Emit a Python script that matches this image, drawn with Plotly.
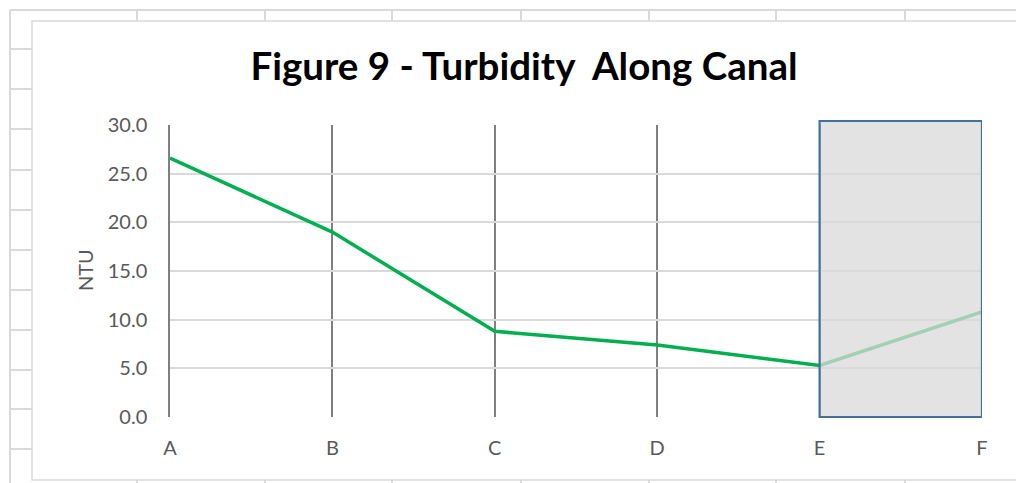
import plotly.graph_objects as go

# Data
sites = ["A", "B", "C", "D", "E", "F"]
turbidity_ntu = [26.6, 19.0, 8.8, 7.4, 5.3, 10.8]
y_ticks = [0, 5, 10, 15, 20, 25, 30]
shaded_from, shaded_to = "E", "F"

W, H = 1024, 483
OFF = 8  # page body margin
FONT = "Lato"
GRID = "#d9d9d9"


def px(x):
    return (x - OFF) / W


def py(y):
    return 1 - (y - OFF) / H


fig = go.Figure()
fig.add_trace(go.Scatter(
    x=sites, y=turbidity_ntu, mode="lines",
    line=dict(color="#00b050", width=3.5),
    hoverinfo="skip", showlegend=False,
))

shapes = []
# spreadsheet cell grid behind the chart
line = dict(color=GRID, width=2)
shapes.append(dict(type="line", xref="paper", yref="paper", x0=px(10), x1=px(1030), y0=py(10), y1=py(10), line=line))
shapes.append(dict(type="line", xref="paper", yref="paper", x0=px(10), x1=px(10), y0=py(10), y1=py(490), line=line))
for yy in [49, 89, 129, 170, 210, 250, 290, 330, 370, 409, 449]:
    shapes.append(dict(type="line", xref="paper", yref="paper", x0=px(10), x1=px(32), y0=py(yy), y1=py(yy), line=line))
    shapes.append(dict(type="line", xref="paper", yref="paper", x0=px(1017), x1=px(1030), y0=py(yy), y1=py(yy), line=line))
for xx in [137, 265, 392, 521, 649, 776, 905]:
    shapes.append(dict(type="line", xref="paper", yref="paper", x0=px(xx), x1=px(xx), y0=py(10), y1=py(21), line=line))
    shapes.append(dict(type="line", xref="paper", yref="paper", x0=px(xx), x1=px(xx), y0=py(480), y1=py(490), line=line))
# chart area border
shapes.append(dict(type="rect", xref="paper", yref="paper", x0=px(32), x1=px(1017), y0=py(21), y1=py(480),
                   line=dict(color=GRID, width=1.5), fillcolor="white", layer="below"))
# shaded box over the last segment (rises a little above the plot top)
shapes.append(dict(type="rect", xref="x", yref="paper",
                   x0=sites.index(shaded_from), x1=sites.index(shaded_to), y0=py(417), y1=py(121),
                   line=dict(color="#41719c", width=2.2), fillcolor="rgba(217,217,217,0.75)", layer="above"))

fig.update_layout(
    width=W, height=H,
    margin=dict(l=0, r=0, t=0, b=0),
    paper_bgcolor="white", plot_bgcolor="rgba(0,0,0,0)",
    font=dict(family=FONT, color="#595959", size=20),
    shapes=shapes,
    title=dict(text="<b>Figure 9 - Turbidity  Along Canal</b>", x=px(524), y=py(67),
               xanchor="center", yanchor="middle", font=dict(family=FONT, size=38.5, color="black")),
    annotations=[dict(text="NTU", xref="paper", yref="paper", x=px(85), y=py(270), textangle=-90,
                      xanchor="center", yanchor="middle",
                      showarrow=False, font=dict(family=FONT, size=20, color="#595959"))],
)
fig.update_xaxes(
    domain=[px(170), px(982)], type="category", range=[0, len(sites) - 1], automargin=False,
    showgrid=True, gridcolor="#7f7f7f", gridwidth=1.5, showline=False, zeroline=False,
    ticks="", ticklabelstandoff=17,
)
fig.update_yaxes(
    domain=[py(417), py(125)], range=[0, 30], tickvals=y_ticks, tickformat=".1f", automargin=False,
    showgrid=True, gridcolor=GRID, gridwidth=1.5, zeroline=False,
    showline=True, linecolor="#7f7f7f", linewidth=1.5,
    ticks="", ticklabelstandoff=17,
)

fig.write_html("out.html")
